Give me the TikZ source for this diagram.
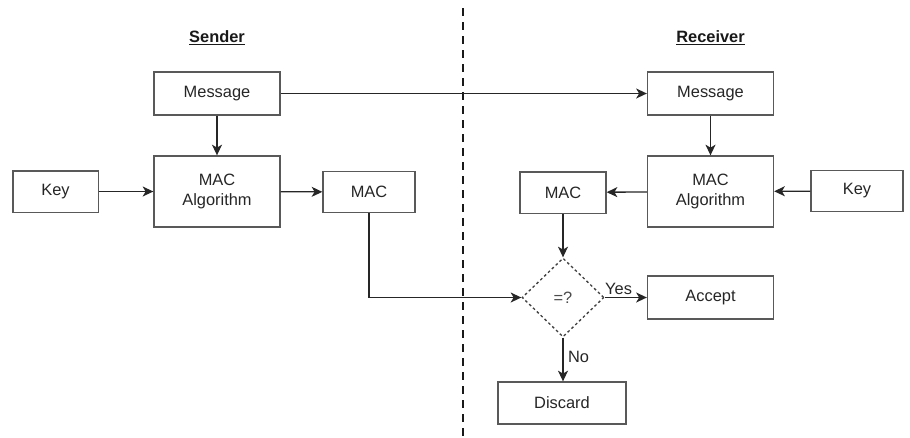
\documentclass[tikz,border=0pt]{standalone}
\usepackage{fontspec}
\setmainfont{Liberation Sans}
\usetikzlibrary{shapes.geometric}
\usetikzlibrary{positioning}
\usetikzlibrary{arrows.meta}

\begin{document}
\begin{tikzpicture}[x = 0.75pt, y = -0.75pt, black!85, line width = 1pt,
    font = \fontsize{12.3}{14.3}\selectfont,
    >={Stealth[length = 8pt, width = 7.5pt, inset = 2.2pt]},
    block/.style = {rectangle, draw = black!65, fill = white, align = center, text = black!85,
        minimum width = 94.5pt, minimum height = 32.25pt},
    algbox/.style = {block, minimum height = 53.25pt},
    smallbox/.style = {block, minimum width = 66pt, minimum height = 31pt},
    check/.style = {diamond, draw = black!75, dash pattern = on 2pt off 2pt, fill = white,
        text = black!70, inner sep = 0pt, minimum width = 61.5pt, minimum height = 59.25pt},
    heading/.style = {font = \fontsize{12.3}{14.3}\selectfont\bfseries, text = black!90}]
    \useasboundingbox (0,0) rectangle (910,437);

    % divider between the two sides
    \coordinate (top) at (463,8);
    \coordinate (bottom) at (463,437);
    \draw[black!90, line width = 2pt, dash pattern = on 6pt off 4.5pt] (top) -- (bottom);

    % sender side
    \node (hdS) [heading] at (217,38) {\underline{Sender}};
    \node (msgS) [block] at (217,93.5) {Message};
    \node (algS) [algbox] at (217,191.5) {MAC\\Algorithm};
    \node (keyS) [smallbox, minimum width = 64pt] at (55.5,191.5) {Key};
    \node (macS) [smallbox, minimum width = 69pt] at (369,192) {MAC};

    \draw[->] (msgS) -- (algS);
    \draw[->] (keyS) -- (algS);
    \draw[->] (algS) -- (macS);

    % receiver side
    \node (hdR) [heading] at (710.5,38) {\underline{Receiver}};
    \node (msgR) [block] at (710.5,93.5) {Message};
    \node (algR) [algbox] at (710.5,191.5) {MAC\\Algorithm};
    \node (keyR) [smallbox, minimum width = 69pt] at (857,191) {Key};
    \node (macR) [smallbox, minimum width = 64.5pt] at (563,192.5) {MAC};
    \node (eq) [check] at (563,297.5) {=?};
    \node (accept) [block] at (710.5,297.5) {Accept};
    \node (discard) [block, minimum width = 96pt, minimum height = 31.5pt] at (562,403) {Discard};

    \draw[->] (msgS) -- (msgR);
    \draw[->] (msgR) -- (algR);
    \draw[->] (keyR) -- (algR);
    \draw[->] (algR) -- (macR);
    \draw[->] (macR) -- (eq);
    \draw[->] (macS) |- (eq);
    \draw[->] (eq) -- node[above, pos = 0.33, inner sep = 1.5pt, text = black!85] {Yes} (accept);
    \draw[->] (eq.south) -- node[right, pos = 0.44, text = black!85] {No} (eq.south |- discard.north);

\end{tikzpicture}
\end{document}
